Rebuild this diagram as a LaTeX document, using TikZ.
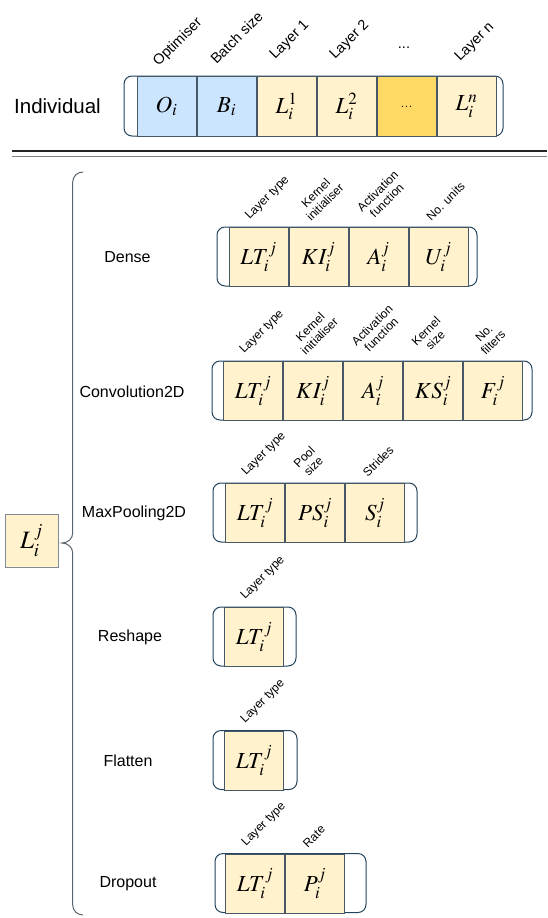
\documentclass[tikz,border=0pt]{standalone}
\usepackage{mathptmx}
\usepackage[no-math]{fontspec}
\setsansfont{Liberation Sans}
\usetikzlibrary{positioning}
\definecolor{optimiser_blue}{RGB}{204, 229, 255}
\definecolor{layer_yellow}{RGB}{255, 242, 204}
\definecolor{dots_gold}{RGB}{255, 217, 102}
\definecolor{cell_slate}{RGB}{70, 88, 104}
\definecolor{box_navy}{RGB}{35, 68, 93}
\definecolor{brace_grey}{RGB}{90, 100, 110}
\tikzset{
    gene_box/.style={
        draw=box_navy,
        fill=white,
        rounded corners=8pt,
        line width=1pt,
        inner sep=0pt
    },
    layer_node/.style={
        draw=cell_slate,
        fill=layer_yellow,
        line width=1pt,
        minimum width=59pt,
        minimum height=59pt,
        inner sep=0pt,
        font=\fontsize{23}{27}\selectfont
    },
    blue_node/.style={
        layer_node,
        fill=optimiser_blue
    },
    dots_node/.style={
        layer_node,
        fill=dots_gold
    },
    gene_label/.style={
        rotate=45,
        anchor=base west,
        inner sep=0pt,
        font=\fontsize{14.5}{17}\selectfont\sffamily
    },
    param_label/.style={
        rotate=45,
        anchor=south west,
        inner sep=0pt,
        align=center,
        font=\fontsize{12}{13}\selectfont\sffamily
    },
    row_label/.style={
        font=\fontsize{16}{19}\selectfont\sffamily
    }
}

\begin{document}
\begin{tikzpicture}[x=1pt, y=-1pt]
\useasboundingbox (0,0) rectangle (547,918);

% Individual chromosome
\node[font=\fontsize{20.5}{24}\selectfont\sffamily] (individual) at (57.5,106) {Individual};
\node[gene_box, minimum width=379pt, minimum height=60pt] (indiv_box) at (313.5,106) {};
\node[blue_node, minimum height=60pt, anchor=north west] (opt) at (136.5,76) {$O_i$};
\node[blue_node, minimum height=60pt, right=0pt of opt] (batch) {$B_i$};
\node[layer_node, minimum height=60pt, right=0pt of batch] (lay1) {$L_i^1$};
\node[layer_node, minimum height=60pt, right=0pt of lay1] (lay2) {$L_i^2$};
\node[dots_node, minimum height=60pt, right=0pt of lay2] (laydots) {\fontsize{16}{19}\selectfont ...};
\node[layer_node, minimum height=60pt, right=0pt of laydots] (layn) {$L_i^n$};

% Gene names
\node[gene_label] (lab_opt) at ([xshift=-8pt,yshift=9pt]opt.north) {Optimiser};
\node[gene_label] (lab_batch) at ([xshift=-10pt,yshift=11pt]batch.north) {Batch size};
\node[gene_label] (lab_lay1) at ([xshift=-11.5pt,yshift=16pt]lay1.north) {Layer 1};
\node[gene_label] (lab_lay2) at ([xshift=-11.5pt,yshift=16pt]lay2.north) {Layer 2};
\node[font=\fontsize{14.5}{17}\selectfont\sffamily, anchor=base, inner sep=0pt] (lab_laydots) at ([xshift=-2.5pt,yshift=28pt]laydots.north) {...};
\node[gene_label] (lab_layn) at ([xshift=-6.5pt,yshift=14pt]layn.north) {Layer n};

% Separator
\coordinate (rule_left) at (12,151);
\coordinate (rule_right) at (547,151);
\draw[line width=1.4pt, black!85] (rule_left) -- (rule_right);
\draw[line width=1pt, black!50] ([yshift=-5pt]rule_left) -- ([yshift=-5pt]rule_right);

% Layer gene and brace
\node[layer_node, minimum width=53pt, minimum height=53pt, draw=cell_slate!70, font=\fontsize{25}{29}\selectfont] (lij) at (31.5,540.5) {$L_i^j$};
\coordinate (brace_top) at (83,172);
\coordinate (brace_bot) at (83,915);
\coordinate (brace_tip) at (62,543);
\draw[brace_grey, line width=1pt] (brace_top) to[out=180, in=90] (72.7,182) -- (72.7,533)
    to[out=-90, in=0] (brace_tip) to[out=0, in=90] (72.7,553) -- (72.7,905) to[out=-90, in=180] (brace_bot);

% Dense
\node[row_label] (dense) at (127.5,257) {Dense};
\node[gene_box, minimum width=260pt, minimum height=59pt] (dense_box) at (347,256.5) {};
\node[layer_node, anchor=north west] (d1) at (228.5,227) {$LT_i^j$};
\node[layer_node, right=0pt of d1] (d2) {$KI_i^j$};
\node[layer_node, right=0pt of d2] (d3) {$A_i^j$};
\node[layer_node, right=0pt of d3] (d4) {$U_i^j$};
\foreach \cell/\txt in {d1/Layer type, d2/Kernel\\initialiser, d3/Activation\\function, d4/No. units}
    \node[param_label] (lab_\cell) at ([xshift=-7pt,yshift=5pt]\cell.north) {\txt};

% Convolution2D
\node[row_label] (conv) at (132,392) {Convolution2D};
\node[gene_box, minimum width=320pt, minimum height=59pt] (conv_box) at (372,390.5) {};
\node[layer_node, anchor=north west] (c1) at (223,361) {$LT_i^j$};
\node[layer_node, right=0pt of c1] (c2) {$KI_i^j$};
\node[layer_node, right=0pt of c2] (c3) {$A_i^j$};
\node[layer_node, right=0pt of c3] (c4) {$KS_i^j$};
\node[layer_node, right=0pt of c4] (c5) {$F_i^j$};
\foreach \cell/\txt in {c1/Layer type, c2/Kernel\\initialiser, c3/Activation\\function, c4/Kernel\\size, c5/No.\\filters}
    \node[param_label] (lab_\cell) at ([xshift=-7pt,yshift=5pt]\cell.north) {\txt};

% MaxPooling2D
\node[row_label] (pool) at (134,513) {MaxPooling2D};
\node[gene_box, minimum width=204pt, minimum height=59pt] (pool_box) at (315,512.5) {};
\node[layer_node, anchor=north west] (p1) at (225,483) {$LT_i^j$};
\node[layer_node, right=0pt of p1] (p2) {$PS_i^j$};
\node[layer_node, right=0pt of p2] (p3) {$S_i^j$};
\foreach \cell/\txt in {p1/Layer type, p2/Pool\\size, p3/Strides}
    \node[param_label] (lab_\cell) at ([xshift=-7pt,yshift=5pt]\cell.north) {\txt};

% Reshape
\node[row_label] (reshape) at (130,637) {Reshape};
\node[gene_box, minimum width=83pt, minimum height=59pt] (reshape_box) at (254.5,636.5) {};
\node[layer_node, anchor=north west] (r1) at (224,607) {$LT_i^j$};
\node[param_label] (lab_r1) at ([xshift=-7pt,yshift=5pt]r1.north) {Layer type};

% Flatten
\node[row_label] (flatten) at (128,761) {Flatten};
\node[gene_box, minimum width=84pt, minimum height=59pt] (flatten_box) at (255,760) {};
\node[layer_node, anchor=north west] (f1) at (224,730.5) {$LT_i^j$};
\node[param_label] (lab_f1) at ([xshift=-7pt,yshift=5pt]f1.north) {Layer type};

% Dropout
\node[row_label] (dropout) at (128,884) {Dropout};
\node[gene_box, minimum width=151pt, minimum height=59pt] (dropout_box) at (290.5,883) {};
\node[layer_node, anchor=north west] (o1) at (225,853.5) {$LT_i^j$};
\node[layer_node, right=0pt of o1] (o2) {$P_i^j$};
\foreach \cell/\txt in {o1/Layer type, o2/Rate}
    \node[param_label] (lab_\cell) at ([xshift=-7pt,yshift=5pt]\cell.north) {\txt};

\end{tikzpicture}
\end{document}
